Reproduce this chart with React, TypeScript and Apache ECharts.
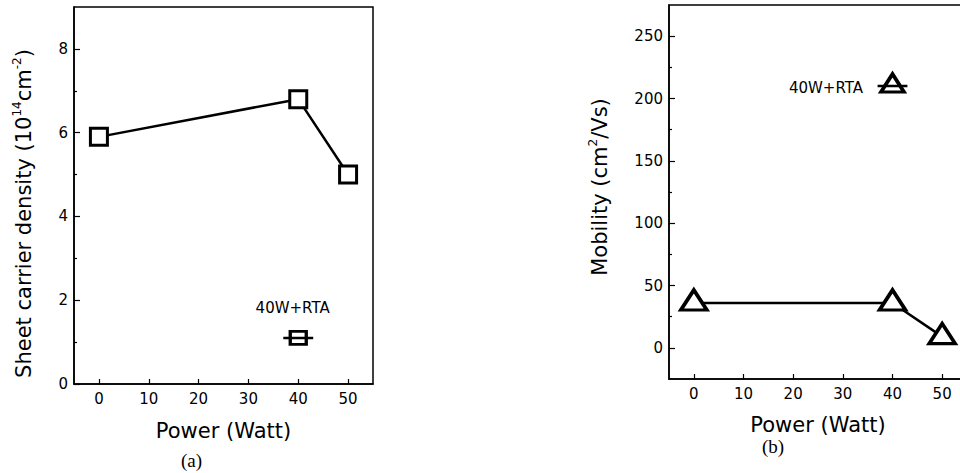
import React, { useEffect, useRef } from "react";
import * as echarts from "echarts";

// ---- data ----
const powerW = [0, 40, 50];
const sheetDensity = [5.9, 6.8, 5.0]; // 10^14 cm^-2
const mobility = [36, 36, 9]; // cm^2/Vs
const rtaPower = [40];
const rtaDensity = [1.1];
const rtaMobility = [210];
const rtaPowerErr = [3];

const xTicks = [0, 10, 20, 30, 40, 50];
const densityTicks = [0, 2, 4, 6, 8];
const densityMinor = [1, 3, 5, 7];
const mobilityTicks = [0, 50, 100, 150, 200, 250];
const mobilityMinor = [25, 75, 125, 175, 225];

const SANS = "DejaVu Sans";
const SERIF = "Liberation Serif";

function pairs(xs: number[], ys: number[]) {
  return xs.map((x, i) => [x, ys[i]]);
}
function errBar(xs: number[], ys: number[], errs: number[]) {
  const out: number[][] = [];
  xs.forEach((x, i) => {
    out.push([x - errs[i], ys[i]]);
    out.push([x + errs[i], ys[i]]);
  });
  return out;
}

export default function App() {
  const ref = useRef<HTMLDivElement>(null);
  useEffect(() => {
    if (!ref.current) return;
    const chart = echarts.init(ref.current, undefined, { renderer: "svg" });
    const axisLine = { show: true, onZero: false, lineStyle: { color: "#000", width: 1.5 } };
    const mkX = (gridIndex: number, nameGap: number) => ({
      type: "value",
      gridIndex,
      min: -5,
      max: 55,
      axisLine,
      splitLine: { show: false },
      axisTick: {
        show: true,
        inside: true,
        length: 5,
        customValues: xTicks,
        lineStyle: { color: "#000", width: 1.2 },
      },
      axisLabel: {
        customValues: xTicks,
        color: "#000",
        fontFamily: SANS,
        fontSize: 15,
        margin: 7,
      },
      name: "Power (Watt)",
      nameLocation: "middle",
      nameGap,
      nameTextStyle: { color: "#000", fontFamily: SANS, fontSize: 21 },
    });
    const minorY = (gridIndex: number, min: number, max: number, vals: number[]) => ({
      type: "value",
      gridIndex,
      min,
      max,
      position: "left",
      axisLine: { show: false, onZero: false },
      splitLine: { show: false },
      axisLabel: { show: false },
      axisTick: {
        show: true,
        inside: true,
        length: 3,
        customValues: vals,
        lineStyle: { color: "#000", width: 1.2 },
      },
    });
    const supRich = {
      sup: { fontSize: 12, fontFamily: SANS, color: "#000", verticalAlign: "top", lineHeight: 12 },
    };
    const option: any = {
      animation: false,
      backgroundColor: "#fff",
      grid: [
        { left: 74, top: 7, width: 299, height: 377, show: true, borderColor: "#000", borderWidth: 1.5 },
        { left: 669, top: 5, width: 298, height: 374, show: true, borderColor: "#000", borderWidth: 1.5 },
      ],
      xAxis: [mkX(0, 36), mkX(1, 35)],
      yAxis: [
        {
          type: "value",
          gridIndex: 0,
          min: 0,
          max: 9,
          axisLine,
          splitLine: { show: false },
          axisTick: {
            show: true,
            inside: true,
            length: 6,
            customValues: densityTicks,
            lineStyle: { color: "#000", width: 1.2 },
          },
          axisLabel: { customValues: densityTicks, color: "#000", fontFamily: SANS, fontSize: 15, margin: 6 },
          name: "Sheet carrier density (10{sup|14}cm{sup|-2})",
          nameLocation: "middle",
          nameGap: 38,
          nameTextStyle: {
            color: "#000",
            fontFamily: SANS,
            fontSize: 21,
            lineHeight: 25,
            rich: supRich,
            padding: [0, 36, 0, 0],
          },
        },
        minorY(0, 0, 9, densityMinor),
        {
          type: "value",
          gridIndex: 1,
          min: -25,
          max: 275,
          axisLine,
          splitLine: { show: false },
          axisTick: {
            show: true,
            inside: true,
            length: 6,
            customValues: mobilityTicks,
            lineStyle: { color: "#000", width: 1.2 },
          },
          axisLabel: { customValues: mobilityTicks, color: "#000", fontFamily: SANS, fontSize: 15, margin: 6 },
          name: "Mobility (cm{sup|2}/Vs)",
          nameLocation: "middle",
          nameGap: 57,
          nameTextStyle: {
            color: "#000",
            fontFamily: SANS,
            fontSize: 21,
            lineHeight: 25,
            rich: supRich,
            padding: [0, 0, 0, 10],
          },
        },
        minorY(1, -25, 275, mobilityMinor),
      ],
      series: [
        {
          type: "line",
          xAxisIndex: 0,
          yAxisIndex: 0,
          data: pairs(powerW, sheetDensity),
          symbol: "rect",
          symbolSize: 17,
          lineStyle: { color: "#000", width: 2.5 },
          itemStyle: { color: "#fff", borderColor: "#000", borderWidth: 3 },
          z: 2,
        },
        {
          type: "scatter",
          xAxisIndex: 0,
          yAxisIndex: 0,
          data: pairs(rtaPower, rtaDensity),
          symbol: "rect",
          symbolSize: [16, 13],
          itemStyle: { color: "#fff", borderColor: "#000", borderWidth: 3, opacity: 1 },
          label: {
            show: true,
            formatter: "40W+RTA",
            position: [-33, -30],
            color: "#000",
            fontFamily: SANS,
            fontSize: 15,
          },
          z: 3,
        },
        {
          type: "line",
          xAxisIndex: 0,
          yAxisIndex: 0,
          data: errBar(rtaPower, rtaDensity, rtaPowerErr),
          showSymbol: false,
          symbol: "none",
          lineStyle: { color: "#000", width: 2.5 },
          z: 4,
        },
        {
          type: "line",
          xAxisIndex: 1,
          yAxisIndex: 2,
          data: pairs(powerW, mobility),
          symbol: "triangle",
          symbolSize: [26, 20],
          symbolOffset: [0, -3],
          lineStyle: { color: "#000", width: 2.5 },
          itemStyle: { color: "#fff", borderColor: "#000", borderWidth: 3.5 },
          z: 2,
        },
        {
          type: "scatter",
          xAxisIndex: 1,
          yAxisIndex: 2,
          data: pairs(rtaPower, rtaMobility),
          symbol: "triangle",
          symbolSize: [23, 18],
          symbolOffset: [0, -3],
          itemStyle: { color: "#fff", borderColor: "#000", borderWidth: 3.5, opacity: 1 },
          label: {
            show: true,
            formatter: "40W+RTA",
            position: "left",
            distance: 16,
            offset: [0, 5],
            color: "#000",
            fontFamily: SANS,
            fontSize: 15,
          },
          z: 3,
        },
        {
          type: "line",
          xAxisIndex: 1,
          yAxisIndex: 2,
          data: errBar(rtaPower, rtaMobility, rtaPowerErr),
          showSymbol: false,
          symbol: "none",
          lineStyle: { color: "#000", width: 2.5 },
          z: 4,
        },
      ],
      graphic: [
        {
          type: "text",
          left: 181,
          top: 451,
          style: { text: "(a)", fontFamily: SERIF, fontSize: 19, fill: "#000" },
        },
        {
          type: "text",
          left: 762,
          top: 437,
          style: { text: "(b)", fontFamily: SERIF, fontSize: 19, fill: "#000" },
        },
      ],
    };
    chart.setOption(option);
    return () => chart.dispose();
  }, []);
  return (
    <div style={{ position: "absolute", left: 0, top: 0, width: 960, height: 473, overflow: "hidden" }}>
      <div ref={ref} style={{ width: 1000, height: 473 }} />
    </div>
  );
}
